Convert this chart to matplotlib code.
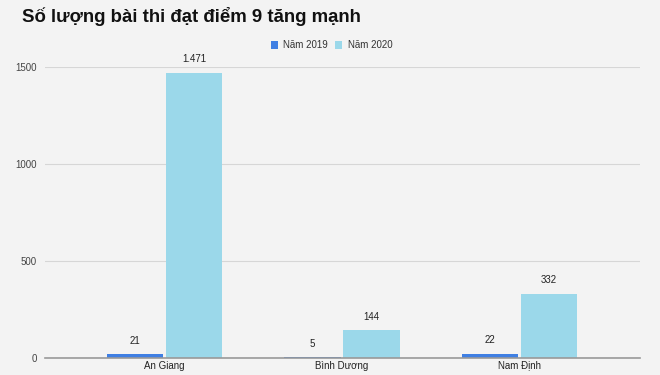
import matplotlib.pyplot as plt
import numpy as np
from matplotlib.patches import Rectangle

categories = ["An Giang", "Bình Dương", "Nam Định"]
values_2019 = [21, 5, 22]
values_2020 = [1471, 144, 332]
labels_2019 = ["21", "5", "22"]
labels_2020 = ["1.471", "144", "332"]
series_names = ["Năm 2019", "Năm 2020"]
yticks = [0, 500, 1000, 1500]

plt.rcParams['font.family'] = ['Liberation Sans', 'DejaVu Sans']

bg = "#f3f3f3"
c2019 = "#3f7fe3"
c2020 = "#9bd8ea"

fig = plt.figure(figsize=(6.6, 3.75), dpi=100, facecolor=bg)
# axes in pixel coords: x 45..640, y 67..358 (from top)
ax = fig.add_axes([45/660, (375-358)/375, 595/660, (358-67)/375])
ax.set_facecolor(bg)

x = np.arange(len(categories))
w = 0.32
gap = 0.006
ax.bar(x - w/2 - gap, values_2019, w, color=c2019, zorder=3)
ax.bar(x + w/2 + gap, values_2020, w, color=c2020, zorder=3)

for i in range(len(categories)):
    ax.annotate(labels_2019[i], (x[i] - w/2 - gap, values_2019[i]), xytext=(0, 6),
                textcoords="offset points", ha="center", va="bottom", fontsize=7, color="#222222")
    ax.annotate(labels_2020[i], (x[i] + w/2 + gap, values_2020[i]), xytext=(0, 6),
                textcoords="offset points", ha="center", va="bottom", fontsize=7, color="#222222")

ax.set_xlim(-0.673, 2.679)
ax.set_ylim(0, 1500)
ax.set_yticks(yticks)
ax.set_yticklabels([str(t) for t in yticks], fontsize=7, color="#444444")
ax.set_xticks(x)
ax.set_xticklabels([])
# category labels; the dot-below glyph in Liberation pushes the text down a bit, so nudge it back
for i, name in enumerate(categories):
    dy = 0.8 if "ị" in name else 0
    ax.annotate(name, (x[i], 0), xycoords=("data", "axes fraction"), xytext=(0, -8 + dy),
                textcoords="offset points", ha="center", va="baseline", fontsize=7,
                color="#222222", annotation_clip=False)
ax.tick_params(axis="both", length=0, pad=6)
ax.grid(axis="y", color="#d6d6d6", linewidth=0.8, zorder=0)
for s in ["top", "right", "left"]:
    ax.spines[s].set_visible(False)
ax.spines["bottom"].set_color("#999999")
ax.spines["bottom"].set_linewidth(1.2)
ax.spines["bottom"].set_zorder(4)

fig.text(22/660, 1 - 17/375, "Số lượng bài thi đạt điểm 9 tăng mạnh", fontsize=13.4,
         fontweight="bold", ha="left", va="center", color="#111111")

# legend
for sx, tx, col, name in [(271, 283, c2019, series_names[0]), (335, 348, c2020, series_names[1])]:
    fig.patches.append(Rectangle((sx/660, 1 - 48.5/375), 7/660, 7/375, transform=fig.transFigure,
                                 facecolor=col, edgecolor="none"))
    fig.text(tx/660, 1 - 45/375, name, fontsize=7, ha="left", va="center", color="#333333")

fig.savefig("out.png", dpi=100, facecolor=bg)
